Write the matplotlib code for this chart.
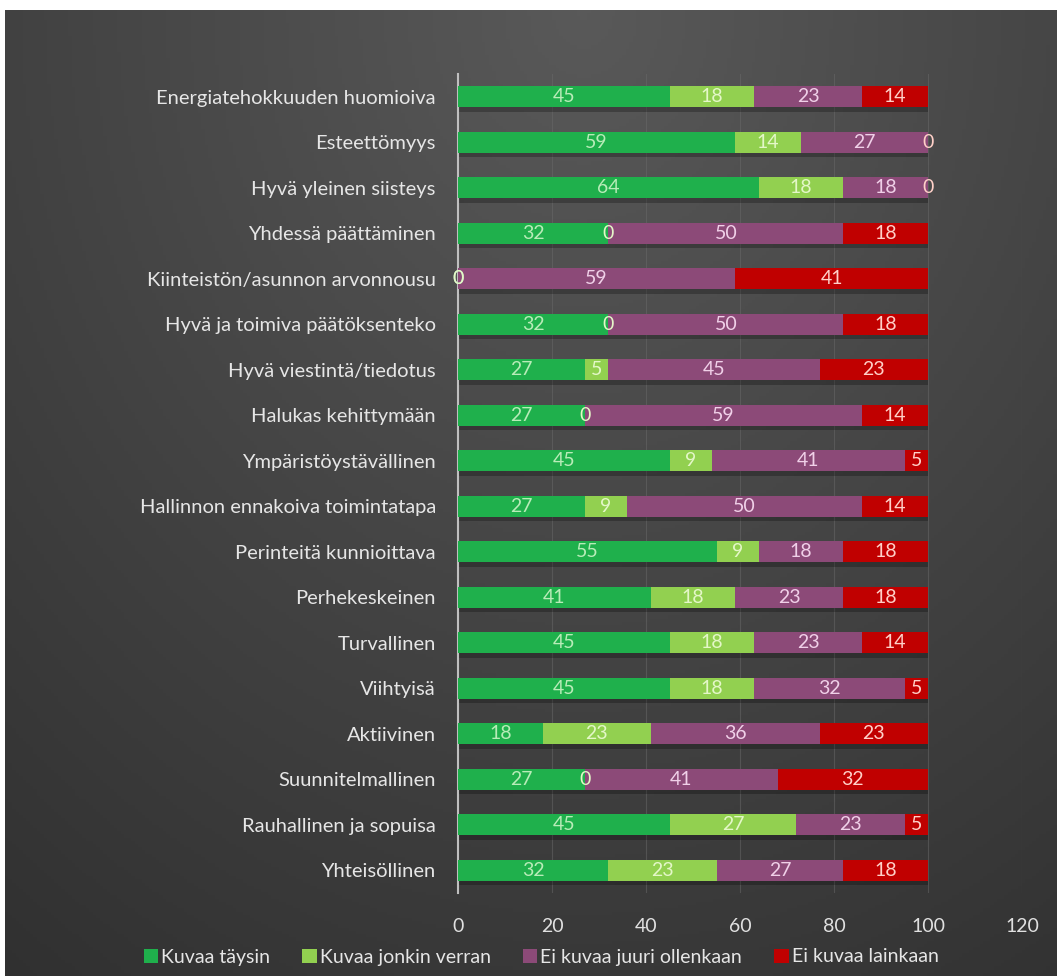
import numpy as np
import matplotlib.pyplot as plt
from matplotlib.patches import Patch

categories = [
    "Energiatehokkuuden huomioiva", "Esteettömyys", "Hyvä yleinen siisteys",
    "Yhdessä päättäminen", "Kiinteistön/asunnon arvonnousu",
    "Hyvä ja toimiva päätöksenteko", "Hyvä viestintä/tiedotus",
    "Halukas kehittymään", "Ympäristöystävällinen",
    "Hallinnon ennakoiva toimintatapa", "Perinteitä kunnioittava",
    "Perhekeskeinen", "Turvallinen", "Viihtyisä", "Aktiivinen",
    "Suunnitelmallinen", "Rauhallinen ja sopuisa", "Yhteisöllinen",
]
taysin = [45, 59, 64, 32, 0, 32, 27, 27, 45, 27, 55, 41, 45, 45, 18, 27, 45, 32]
jonkin = [18, 14, 18, 0, 0, 0, 5, 0, 9, 9, 9, 18, 18, 18, 23, 0, 27, 23]
juuri = [23, 27, 18, 50, 59, 50, 45, 59, 41, 50, 18, 23, 23, 32, 36, 41, 23, 27]
lainkaan = [14, 0, 0, 18, 41, 18, 23, 14, 5, 14, 18, 18, 14, 5, 23, 32, 5, 18]
series_names = ["Kuvaa täysin", "Kuvaa jonkin verran",
                "Ei kuvaa juuri ollenkaan", "Ei kuvaa lainkaan"]
xticks = [0, 20, 40, 60, 80, 100, 120]

colors = ["#1fb04c", "#92d050", "#8c4a78", "#c00000"]
label_colors = ["#b8ecb8", "#e4f7c8", "#f0d0e8", "#ffd0c8"]
font = ["Lato", "DejaVu Sans"]

fig = plt.figure(figsize=(10.57, 9.76), dpi=100)
fig.patch.set_facecolor("white")

# dark radial gradient background (thin white border at top/left)
bg = fig.add_axes([5 / 1057, 0, 1 - 5 / 1057, 1 - 10 / 976])
yy, xx = np.mgrid[0:1:300j, 0:1:300j]
r = np.sqrt((xx - 0.55) ** 2 + (yy / 1.3) ** 2)
shade = np.clip(0.35 - 0.17 * r, 0.17, 0.35)
bg.imshow(np.dstack([shade] * 3), aspect="auto", extent=[0, 1, 1, 0])
bg.axis("off")

ax = fig.add_axes([458 / 1057, 1 - 893 / 976, 564 / 1057, 819 / 976])
ax.patch.set_alpha(0)
y = np.arange(len(categories))
data = [taysin, jonkin, juuri, lainkaan]
left = np.zeros(len(categories))
for vals, c, lc, name in zip(data, colors, label_colors, series_names):
    vals = np.array(vals, dtype=float)
    # soft shadow under the bars
    ax.barh(y + 0.1, vals, left=left, height=0.46, color="black", alpha=0.25,
            zorder=2, linewidth=0)
    ax.barh(y, vals, left=left, height=0.46, color=c, zorder=3, linewidth=0,
            label=name)
    for yi, v, l in zip(y, vals, left):
        ax.text(l + v / 2, yi, f"{int(v)}", ha="center", va="center",
                color=lc, fontsize=14, family=font, zorder=4)
    left += vals

ax.set_xlim(0, 120)
ax.set_ylim(len(categories) - 0.5, -0.5)
ax.set_xticks(xticks)
ax.set_yticks(y)
ax.set_yticklabels(categories)
ax.tick_params(axis="y", length=0, pad=16, labelsize=14.5, labelcolor="#e6e6e6")
ax.tick_params(axis="x", length=0, pad=18, labelsize=14, labelcolor="#e0e0e0")
for lbl in ax.get_xticklabels() + ax.get_yticklabels():
    lbl.set_family(font)
ax.grid(axis="x", color="#6a6a6a", linewidth=0.8, alpha=0.5, zorder=0)
for s in ["top", "right", "bottom"]:
    ax.spines[s].set_visible(False)
ax.spines["left"].set_color("#bfbfbf")
ax.spines["left"].set_linewidth(1.5)

handles = [Patch(facecolor=c, edgecolor="none") for c in colors]
leg = fig.legend(handles, series_names, loc="center left",
                 bbox_to_anchor=(126 / 1057, 1 - 957 / 976), ncol=4,
                 frameon=False, handlelength=0.75, handleheight=0.75,
                 handletextpad=0.15, columnspacing=1.65,
                 prop={"family": font, "size": 14})
for t in leg.get_texts():
    t.set_color("#e6e6e6")

fig.savefig("out.png", dpi=100)
